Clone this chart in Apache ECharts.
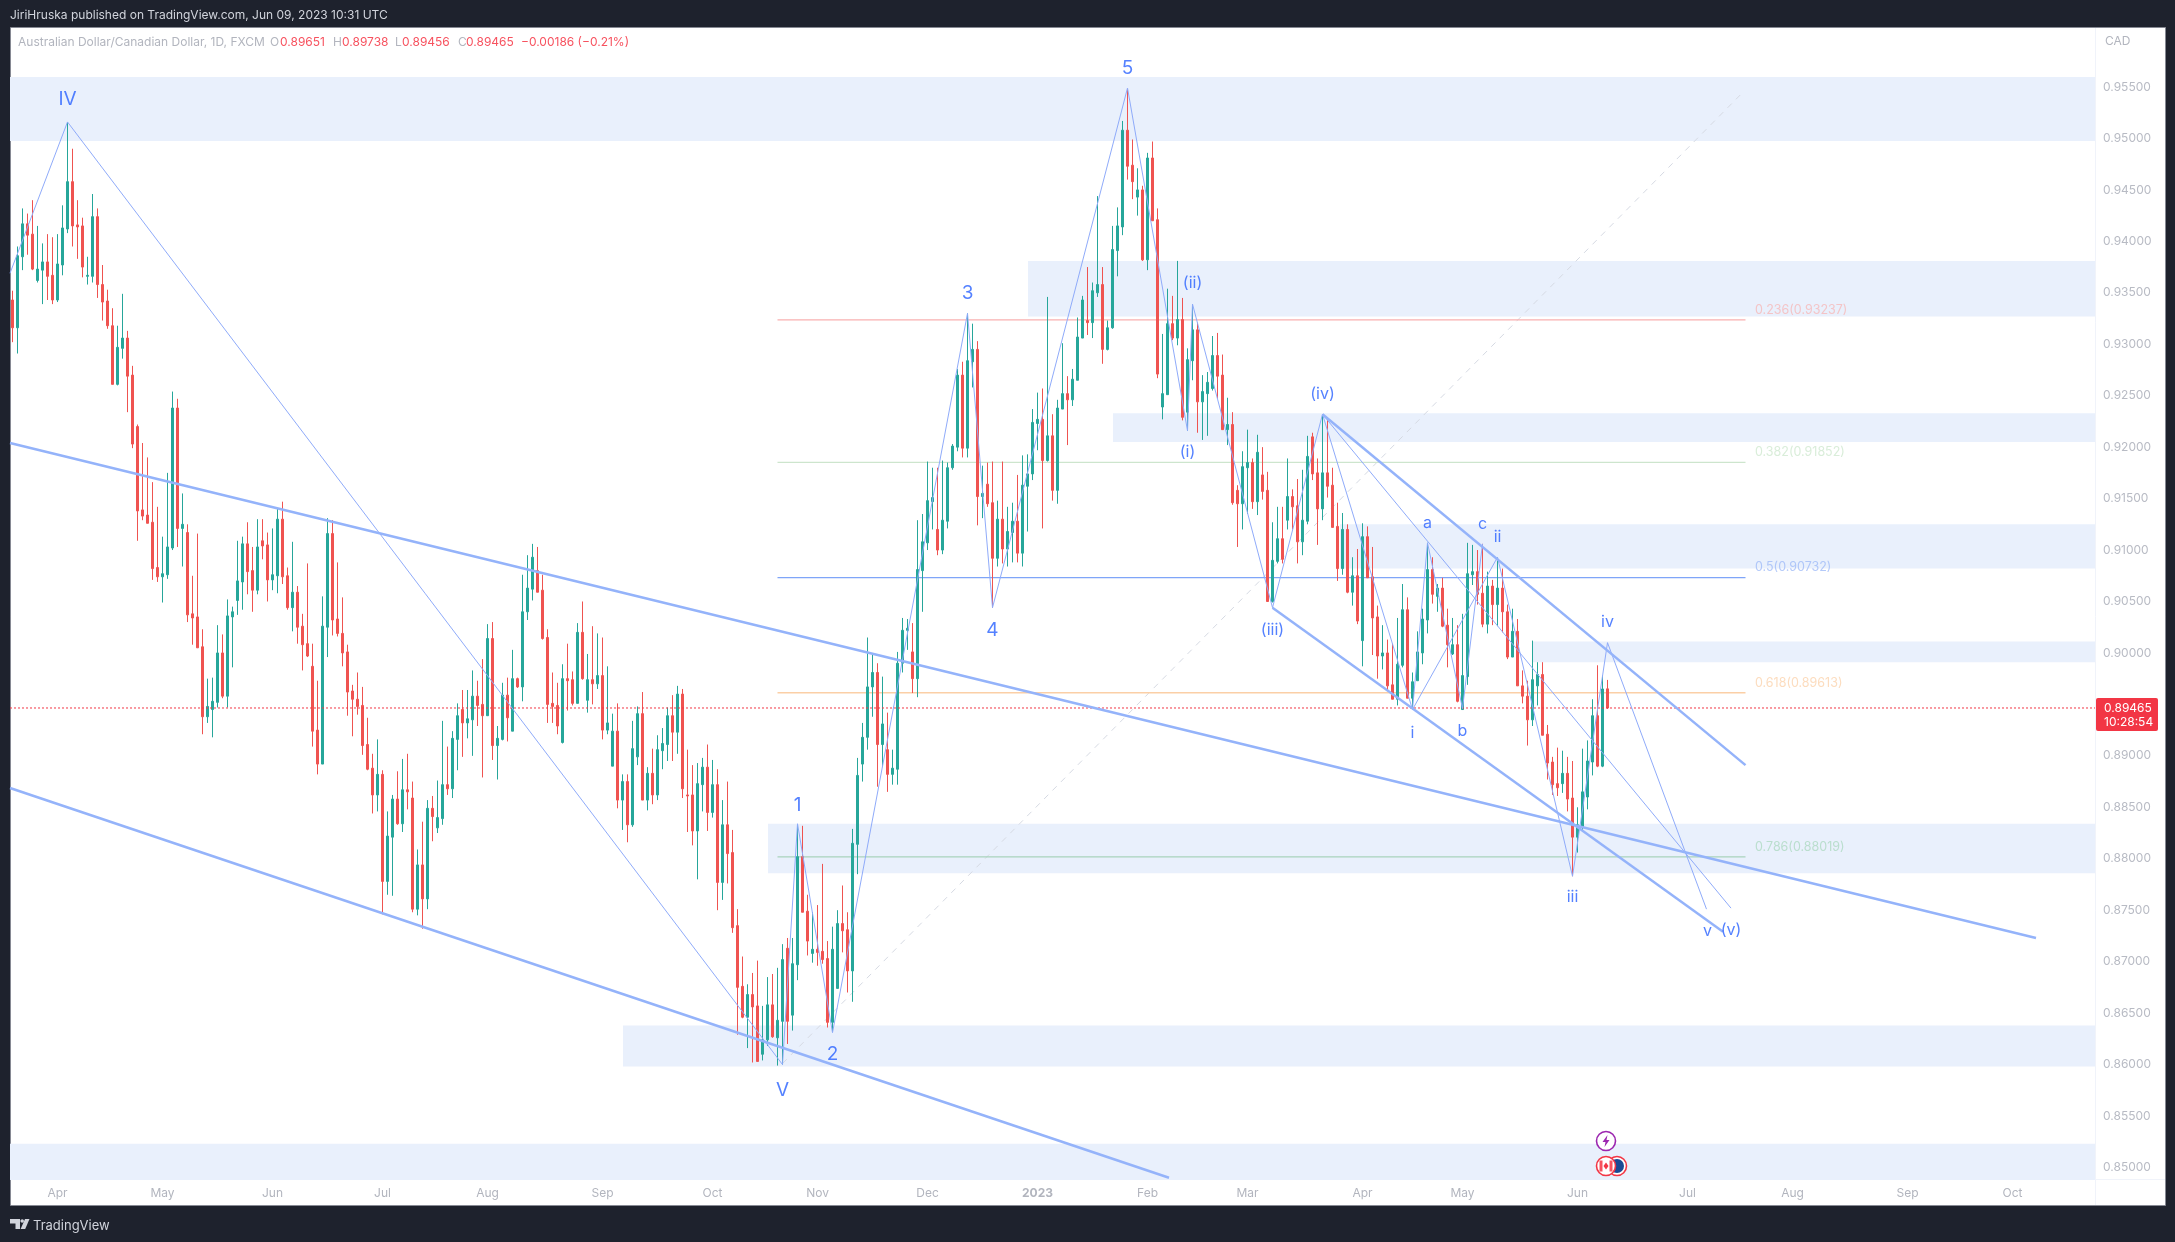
<!DOCTYPE html>
<html><head><meta charset="utf-8"><title>AUDCAD</title>
<style>html,body{margin:0;padding:0;background:#1e222d}#c{width:2175px;height:1242px}</style>
<script src="https://cdn.jsdelivr.net/npm/echarts@6/dist/echarts.min.js"></script>
</head><body><div id="c"></div><script>
const priceOpen=[
.9343,.9316,.9385,.9417,.9407,.9362,.9372,.9380,.9367,.9343,
.9377,.9412,.9458,.9416,.9415,.9366,.9366,.9424,.9358,.9342,
.9318,.9261,.9296,.9306,.9270,.9220,.9139,.9134,.9127,.9083,
.9074,.9076,.9102,.9238,.9121,.9117,.9038,.9035,.9006,.8938,
.8945,.8952,.9000,.8958,.9035,.9051,.9069,.9106,.9080,.9061,
.9109,.9105,.9071,.9075,.9130,.9075,.9044,.9059,.9026,.9009,
.8987,.8925,.8892,.9025,.9116,.9033,.9019,.9001,.8963,.8955,
.8949,.8911,.8888,.8862,.8882,.8778,.8821,.8858,.8834,.8867,
.8859,.8751,.8794,.8761,.8849,.8830,.8839,.8872,.8868,.8916,
.8945,.8932,.8935,.8958,.8950,.8939,.9014,.8910,.8916,.8959,
.8924,.8975,.8967,.9040,.9062,.9080,.9061,.9015,.8951,.8949,
.8913,.8975,.8974,.8951,.9020,.8954,.8974,.8970,.8978,.8925,
.8890,.8924,.8857,.8875,.8833,.8899,.8941,.8857,.8883,.8862,
.8905,.8911,.8939,.8923,.8960,.8862,.8862,.8827,.8872,.8889,
.8845,.8872,.8777,.8833,.8806,.8735,.8676,.8646,.8668,.8657,
.8610,.8624,.8658,.8626,.8642,.8713,.8648,.8697,.8802,.8749,
.8708,.8712,.8710,.8703,.8641,.8674,.8737,.8731,.8691,.8814,
.8892,.8918,.8967,.8981,.8911,.8906,.8882,.8887,.8990,.9022,
.9001,.8975,.9080,.9107,.9147,.9120,.9100,.9128,.9180,.9200,
.9270,.9199,.9283,.9295,.9152,.9164,.9146,.9092,.9130,.9101,
.9117,.9128,.9097,.9162,.9174,.9223,.9227,.9187,.9211,.9158,
.9237,.9252,.9246,.9265,.9306,.9323,.9321,.9350,.9358,.9295,
.9316,.9391,.9414,.9508,.9474,.9443,.9450,.9382,.9481,.9421,
.9239,.9251,.9320,.9306,.9324,.9234,.9284,.9314,.9244,.9252,
.9257,.9289,.9270,.9217,.9222,.9158,.9145,.9180,.9185,.9147,
.9173,.9158,.9050,.9089,.9111,.9129,.9152,.9143,.9108,.9128,
.9210,.9175,.9140,.9175,.9163,.9123,.9082,.9120,.9059,.9075,
.9012,.9113,.9074,.9035,.8997,.9000,.8969,.8955,.8988,.9042,
.8956,.8973,.9000,.9032,.9081,.9055,.9063,.9027,.8999,.9008,
.8945,.8977,.9076,.9079,.9058,.9028,.9065,.9047,.9063,.9040,
.8996,.9021,.8968,.8958,.8935,.8968,.8979,.8921,.8894,.8873,
.8873,.8883,.8859,.8821,.8831,.8860,.8894,.8939,.8890,.89651];
const priceHigh=[
.9352,.9395,.9432,.9427,.9440,.9415,.9398,.9407,.9404,.9407,
.9435,.9516,.9490,.9440,.9423,.9385,.9446,.9432,.9377,.9353,
.9335,.9318,.9349,.9313,.9279,.9222,.9204,.9190,.9166,.9142,
.9113,.9175,.9254,.9247,.9155,.9125,.9075,.9116,.9023,.8975,
.8976,.9027,.9018,.9052,.9045,.9109,.9113,.9127,.9103,.9130,
.9130,.9117,.9121,.9140,.9147,.9083,.9108,.9065,.9038,.9087,
.9009,.8973,.9055,.9131,.9129,.9088,.9054,.9008,.8969,.8981,
.8967,.8937,.8902,.8916,.8886,.8846,.8862,.8885,.8897,.8902,
.8875,.8809,.8836,.8857,.8861,.8876,.8934,.8909,.8924,.8951,
.8964,.8964,.8983,.8973,.8994,.9028,.9030,.8929,.8971,.8976,
.9003,.8976,.9076,.9095,.9106,.9103,.9076,.9023,.8981,.8971,
.8989,.9009,.8982,.9029,.9050,.8999,.9026,.9019,.9015,.8987,
.8941,.8951,.8882,.8882,.8934,.8948,.8962,.8889,.8907,.8920,
.8927,.8947,.8959,.8968,.8965,.8906,.8891,.8893,.8898,.8911,
.8896,.8887,.8857,.8875,.8828,.8751,.8705,.8678,.8689,.8701,
.8657,.8685,.8688,.8694,.8717,.8723,.8723,.8833,.8832,.8765,
.8748,.8755,.8795,.8720,.8734,.8750,.8774,.8748,.8829,.8898,
.8932,.9015,.8999,.8990,.8977,.8942,.8906,.9001,.9034,.9033,
.9029,.9129,.9135,.9186,.9180,.9180,.9187,.9185,.9203,.9276,
.9283,.9330,.9320,.9303,.9182,.9185,.9186,.9148,.9186,.9142,
.9146,.9173,.9192,.9193,.9237,.9253,.9257,.9346,.9232,.9246,
.9301,.9269,.9276,.9326,.9347,.9375,.9360,.9444,.9375,.9323,
.9415,.9433,.9517,.9548,.9499,.9471,.9454,.9486,.9497,.9432,
.9310,.9354,.9347,.9381,.9345,.9296,.9339,.9321,.9270,.9273,
.9308,.9311,.9290,.9248,.9234,.9163,.9196,.9217,.9189,.9212,
.9200,.9176,.9127,.9142,.9142,.9189,.9159,.9169,.9178,.9211,
.9214,.9189,.9232,.9229,.9180,.9146,.9136,.9125,.9093,.9101,
.9126,.9123,.9103,.9046,.9027,.9013,.9009,.9034,.9067,.9054,
.8981,.9021,.9043,.9107,.9093,.9067,.9073,.9043,.9034,.9027,
.9038,.9107,.9105,.9100,.9106,.9079,.9071,.9093,.9082,.9047,
.9043,.9033,.8983,.8973,.9012,.8991,.8991,.8930,.8899,.8908,
.8905,.8899,.8895,.8850,.8907,.8915,.8955,.8988,.8978,.89738];
const priceLow=[
.9302,.9291,.9372,.9387,.9372,.9360,.9339,.9343,.9339,.9341,
.9367,.9408,.9395,.9383,.9365,.9358,.9360,.9345,.9323,.9315,
.9261,.9260,.9286,.9234,.9199,.9109,.9129,.9126,.9071,.9069,
.9049,.9072,.9100,.9103,.9084,.9030,.9008,.9005,.8921,.8932,
.8918,.8947,.8956,.8947,.8986,.9037,.9042,.9057,.9040,.9057,
.9091,.9050,.9061,.9058,.9067,.9042,.9021,.9009,.8983,.8996,
.8909,.8882,.8892,.8996,.9017,.9016,.8987,.8939,.8919,.8940,
.8901,.8886,.8844,.8846,.8746,.8765,.8764,.8833,.8826,.8848,
.8748,.8745,.8732,.8751,.8817,.8825,.8833,.8862,.8859,.8886,
.8899,.8917,.8900,.8929,.8879,.8939,.8896,.8877,.8915,.8914,
.8924,.8966,.8953,.9032,.9051,.9059,.9013,.8932,.8932,.8921,
.8912,.8944,.8949,.8951,.8974,.8942,.8950,.8965,.8916,.8921,
.8890,.8849,.8828,.8816,.8831,.8891,.8857,.8847,.8853,.8857,
.8887,.8895,.8895,.8902,.8859,.8826,.8813,.8780,.8846,.8827,
.8840,.8750,.8760,.8776,.8728,.8629,.8645,.8616,.8602,.8603,
.8604,.8618,.8626,.8599,.8600,.8620,.8633,.8682,.8748,.8706,
.8699,.8696,.8698,.8636,.8632,.8674,.8709,.8670,.8661,.8785,
.8875,.8906,.8938,.8870,.8889,.8865,.8872,.8872,.8981,.9003,
.8961,.8957,.9040,.9100,.9120,.9095,.9096,.9121,.9178,.9196,
.9190,.9190,.9258,.9124,.9131,.9142,.9044,.9084,.9087,.9084,
.9088,.9088,.9084,.9118,.9168,.9197,.9121,.9186,.9148,.9145,
.9237,.9202,.9240,.9265,.9306,.9309,.9306,.9346,.9281,.9294,
.9315,.9366,.9406,.9460,.9441,.9425,.9381,.9372,.9420,.9267,
.9227,.9251,.9304,.9299,.9226,.9216,.9265,.9214,.9207,.9211,
.9255,.9247,.9217,.9202,.9144,.9103,.9120,.9135,.9140,.9134,
.9149,.9050,.9049,.9087,.9087,.9120,.9120,.9087,.9095,.9125,
.9168,.9105,.9129,.9151,.9122,.9070,.9076,.9058,.9046,.9028,
.8987,.9073,.8998,.8975,.8984,.8964,.8955,.8949,.8986,.8956,
.8945,.8973,.8989,.9019,.9048,.9040,.9025,.8986,.8998,.8952,
.8945,.8969,.9066,.9047,.9025,.9019,.9027,.9026,.9020,.8994,
.8996,.8968,.8951,.8910,.8929,.8949,.8920,.8877,.8862,.8861,
.8864,.8846,.8783,.8806,.8826,.8848,.8881,.8889,.8889,.89456];
const priceClose=[
.9316,.9386,.9417,.9406,.9373,.9373,.9380,.9366,.9343,.9378,
.9413,.9458,.9415,.9414,.9375,.9367,.9424,.9358,.9341,.9318,
.9261,.9297,.9306,.9269,.9203,.9138,.9133,.9126,.9082,.9074,
.9077,.9103,.9238,.9121,.9125,.9037,.9034,.9005,.8938,.8948,
.8953,.9000,.8958,.9036,.9040,.9070,.9106,.9079,.9061,.9103,
.9104,.9071,.9076,.9130,.9074,.9044,.9059,.9025,.9008,.8997,
.8924,.8892,.9026,.9116,.9032,.9019,.9000,.8962,.8955,.8948,
.8910,.8887,.8862,.8882,.8778,.8822,.8858,.8834,.8867,.8865,
.8751,.8794,.8761,.8849,.8841,.8840,.8872,.8868,.8917,.8939,
.8932,.8936,.8958,.8949,.8939,.9014,.8910,.8917,.8959,.8937,
.8975,.8967,.9040,.9063,.9093,.9059,.9014,.8950,.8948,.8929,
.8975,.8973,.8951,.9020,.8975,.8974,.8970,.8978,.8925,.8932,
.8924,.8857,.8875,.8833,.8907,.8941,.8857,.8883,.8862,.8906,
.8912,.8939,.8923,.8960,.8868,.8861,.8827,.8873,.8889,.8845,
.8872,.8777,.8833,.8805,.8733,.8675,.8646,.8668,.8656,.8603,
.8624,.8658,.8627,.8643,.8702,.8642,.8698,.8802,.8748,.8720,
.8712,.8709,.8702,.8641,.8712,.8737,.8730,.8691,.8815,.8881,
.8918,.8967,.8981,.8911,.8931,.8882,.8888,.8990,.9022,.9024,
.8975,.9081,.9108,.9148,.9151,.9100,.9129,.9180,.9201,.9270,
.9199,.9284,.9295,.9152,.9155,.9145,.9092,.9130,.9101,.9118,
.9128,.9097,.9163,.9174,.9224,.9227,.9187,.9211,.9158,.9238,
.9252,.9246,.9266,.9307,.9343,.9321,.9352,.9358,.9295,.9316,
.9392,.9415,.9508,.9473,.9458,.9450,.9382,.9481,.9420,.9271,
.9252,.9320,.9306,.9324,.9229,.9285,.9314,.9244,.9254,.9263,
.9289,.9269,.9217,.9222,.9146,.9145,.9181,.9185,.9147,.9195,
.9157,.9050,.9090,.9111,.9091,.9152,.9142,.9108,.9129,.9191,
.9174,.9140,.9175,.9162,.9122,.9082,.9120,.9059,.9075,.9031,
.9113,.9073,.9034,.8997,.9000,.8968,.8955,.8989,.9042,.8956,
.8972,.9001,.9033,.9081,.9057,.9063,.9026,.9008,.9008,.8953,
.8978,.9077,.9079,.9057,.9028,.9065,.9047,.9063,.9040,.8996,
.9021,.8968,.8958,.8935,.8974,.8979,.8920,.8893,.8872,.8869,
.8883,.8858,.8821,.8833,.8865,.8895,.8939,.8890,.8965,.89465];

const firstBarDate='2022-03-21', slotCount=417;
const tickDates=['2022-04-01','2022-05-02','2022-06-01','2022-07-01','2022-08-01','2022-09-01','2022-10-03','2022-11-01','2022-12-01','2023-01-02','2023-02-01','2023-03-01','2023-04-03','2023-05-01','2023-06-01','2023-07-03','2023-08-01','2023-09-01','2023-10-02'];
const tickNames=['Apr','May','Jun','Jul','Aug','Sep','Oct','Nov','Dec','2023','Feb','Mar','Apr','May','Jun','Jul','Aug','Sep','Oct'];
const priceTicks=[.85,.855,.86,.865,.87,.875,.88,.885,.89,.895,.9,.905,.91,.915,.92,.925,.93,.935,.94,.945,.95,.955];

// zones: [first bar, last bar, upper price, lower price]
const zones=[[-.5,416.5,.95597,.94975],[203.1,416.5,.9381,.9327],[220.1,416.5,.9233,.9205],[265.5,416.5,.9125,.9082],[303.9,416.5,.9011,.8991],[151.1,416.5,.8834,.8786],[122.1,416.5,.8638,.8598],[-.5,416.5,.8523,.8487]];
// Elliott wave paths: [bar, price]
const waveMain=[[-.5,.9369],[11,.9516],[154,.8600],[157,.8834],[164,.8631],[191,.9330],[196,.9044],[223,.9549],[235,.9216],[236,.9339],[252,.9044],[262,.9232],[280,.8945],[297,.9093],[312,.8783],[319,.9010],[338.8,.8751]];
const waveAbc=[[280,.8945],[283,.9107],[290,.8946],[294,.9106]];
const waveAlt=[[262,.9232],[343.7,.8752]];
const trendUpper=[[-.5,.9204],[404.7,.8723]];
const trendLower=[[-.5,.88687],[231.3,.8490]];
const channelUpper=[[262,.9232],[346.6,.8891]];
const channelLower=[[252,.9044],[342.1,.8729]];
const fibDiagonal=[[154,.8601],[345.7,.9543]];
const fibFrom=153, fibTo=346.6, fibLabelBar=348.5;
const fibRatios=['0.236','0.382','0.5','0.618','0.786'];
const fibPrices=[.93237,.91852,.90732,.89613,.88019];
const fibLineColors=['#f9b0b0','#cde5cd','#7fa5f8','#fbcfa6','#a9d3bd'];
const fibTextColors=['#f6b9b9','#d0e8d0','#a0bbf8','#fbd3ae','#aed9c2'];
const bigLabels=['IV','V','1','2','3','4','5'];
const bigLabelPos=[[11,.95383],[154,.8575],[157,.8852],[164,.8610],[191,.9350],[196,.9022],[223,.95684]];
const smallLabels=['(i)','(ii)','(iii)','(iv)','a','c','ii','i','b','iii','iv','v','(v)'];
const smallLabelPos=[[235,.9195],[236,.93595],[252,.9022],[262,.92516],[283,.9126],[294,.9125],[297,.91126],[280,.8922],[290,.8924],[312,.8763],[319,.9030],[339,.8730],[343.7,.8731]];
const lastPrice=.89465;

const FONT='Inter';
const categories=[];
(function(){let d=new Date(firstBarDate+'T00:00:00Z');while(categories.length<slotCount){const w=d.getUTCDay();if(w!==0&&w!==6)categories.push(d.toISOString().slice(0,10));d=new Date(d.getTime()+864e5);}})();
const candles=priceOpen.map((o,i)=>[o,priceClose[i],priceLow[i],priceHigh[i]]);
const tickMap={};tickDates.forEach((d,i)=>tickMap[d]=tickNames[i]);

function line(data,color,width,type,z){return{type:'line',xAxisIndex:1,yAxisIndex:0,data,showSymbol:false,silent:true,animation:false,z:z||5,lineStyle:{color,width,type:type||'solid'}};}
function labels(data,names,size){return{type:'scatter',xAxisIndex:1,yAxisIndex:0,data,symbolSize:1,silent:true,animation:false,z:6,itemStyle:{color:'transparent'},label:{show:true,position:'inside',align:'center',verticalAlign:'middle',fontFamily:FONT,fontSize:size,fontWeight:400,color:'#2962ff',formatter:p=>names[p.dataIndex]}};}

const series=[
 {type:'custom',xAxisIndex:1,yAxisIndex:0,data:zones,silent:true,animation:false,z:1,clip:true,encode:{x:[0,1],y:[2,3]},
  renderItem:(p,api)=>{const a=api.coord([api.value(0),api.value(2)]),b=api.coord([api.value(1),api.value(3)]);return{type:'rect',shape:{x:a[0],y:a[1],width:b[0]-a[0],height:b[1]-a[1]},style:{fill:'#e9f0fc'}};}},
 line(fibDiagonal,'#d6dae3',1,[6,6],2),
 {type:'candlestick',xAxisIndex:0,yAxisIndex:0,data:candles,barWidth:2.4,silent:true,animation:false,z:3,
  itemStyle:{color:'#26a69a',color0:'#ef5350',borderColor:'#26a69a',borderColor0:'#ef5350',borderWidth:1}},
 line([[-.5,lastPrice],[416.5,lastPrice]],'#f23645',1,[2,2],4)
];
fibPrices.forEach((p,i)=>{
 series.push(line([[fibFrom,p],[fibTo,p]],fibLineColors[i],1.3,'solid',2));
 series.push({type:'scatter',xAxisIndex:1,yAxisIndex:0,data:[[fibLabelBar,p]],symbolSize:1,silent:true,animation:false,z:6,itemStyle:{color:'transparent'},
  label:{show:true,position:'inside',align:'left',verticalAlign:'middle',offset:[0,-10],fontFamily:FONT,fontSize:12.5,color:fibTextColors[i],formatter:()=>fibRatios[i]+'('+p.toFixed(5)+')'}});
});
series.push(line(waveMain,'#8fabfa',1));
series.push(line(waveAbc,'#8fabfa',1));
series.push(line(waveAlt,'#8fabfa',1));
series.push(line(trendUpper,'#94b3fa',2.5));
series.push(line(trendLower,'#94b3fa',2.5));
series.push(line(channelUpper,'#94b3fa',2.5));
series.push(line(channelLower,'#94b3fa',2.5));
series.push(labels(bigLabelPos,bigLabels,19));
series.push(labels(smallLabelPos,smallLabels,16));

const gText=(x,y,text,fill,size)=>({type:'text',silent:true,x,y,z:20,style:{text,fill,font:(size||12)+'px '+FONT,textVerticalAlign:'middle'}});
const RED='#f7525f',GREY='#b2b5be';
const graphic=[
 {type:'rect',silent:true,z:-5,shape:{x:10.5,y:27.5,width:2155,height:1178},style:{fill:'#fff',stroke:'#868993',lineWidth:1}},
 {type:'line',silent:true,z:-4,shape:{x1:2095.5,y1:28,x2:2095.5,y2:1205},style:{stroke:'#f0f3fa',lineWidth:1}},
 {type:'line',silent:true,z:-4,shape:{x1:2096,y1:1179.5,x2:2165,y2:1179.5},style:{stroke:'#f0f3fa',lineWidth:1}},
 gText(10,15.5,'JiriHruska published on TradingView.com, Jun 09, 2023 10:31 UTC','#d1d4dc',12),
 gText(18,42.5,'Australian Dollar/Canadian Dollar, 1D, FXCM',GREY,12),
 gText(270,42.5,'O',GREY,12),gText(280,42.5,'0.89651',RED,12),
 gText(333,42.5,'H',GREY,12),gText(342,42.5,'0.89738',RED,12),
 gText(395,42.5,'L',GREY,12),gText(402,42.5,'0.89456',RED,12),
 gText(458,42.5,'C',GREY,12),gText(466,42.5,'0.89465',RED,12),
 gText(521,42.5,'\u22120.00186 (\u22120.21%)',RED,12),
 gText(2105,41,'CAD',GREY,12),
 {type:'rect',silent:true,z:20,shape:{x:2096,y:698,width:62,height:33,r:2},style:{fill:'#f23645'}},
 gText(2104,708,'0.89465','#fff',12),gText(2104,722,'10:28:54','#fff',12),
 gText(33,1226,'TradingView','#d1d4dc',13),
 {type:'polygon',silent:true,z:20,shape:{points:[[10,1219],[20,1219],[20,1229],[15.5,1229],[15.5,1223.5],[10,1223.5]]},style:{fill:'#d1d4dc'}},
 {type:'circle',silent:true,z:20,shape:{cx:22.2,cy:1221,r:1.8},style:{fill:'#d1d4dc'}},
 {type:'polygon',silent:true,z:20,shape:{points:[[25,1219],[29.5,1219],[25.2,1229],[20.6,1229]]},style:{fill:'#d1d4dc'}},
 {type:'circle',silent:true,z:20,shape:{cx:1606,cy:1141,r:9.5},style:{fill:'#fff',stroke:'#9c27b0',lineWidth:1.6}},
 {type:'polygon',silent:true,z:21,shape:{points:[[1607.5,1135],[1602.5,1142],[1605.5,1142],[1604.5,1147],[1609.5,1140],[1606.5,1140]]},style:{fill:'#9c27b0'}},
 {type:'circle',silent:true,z:20,shape:{cx:1617,cy:1166,r:9.5},style:{fill:'#fff',stroke:'#f23645',lineWidth:1.6}},
 {type:'circle',silent:true,z:20,shape:{cx:1617,cy:1166,r:7},style:{fill:'#1a4a94'}},
 {type:'circle',silent:true,z:21,shape:{cx:1606,cy:1166,r:9.5},style:{fill:'#fff',stroke:'#f23645',lineWidth:1.6}},
 {type:'rect',silent:true,z:21,shape:{x:1599.5,y:1160.5,width:3,height:11},style:{fill:'#f7525f'}},
 {type:'rect',silent:true,z:21,shape:{x:1609.5,y:1160.5,width:3,height:11},style:{fill:'#f7525f'}},
 {type:'polygon',silent:true,z:21,shape:{points:[[1606,1162.5],[1608.5,1166],[1606,1169.5],[1603.5,1166]]},style:{fill:'#f23645'}}
];

const chart=echarts.init(document.getElementById('c'),null,{renderer:'canvas',width:2175,height:1242});
chart.setOption({
 animation:false,backgroundColor:'#1e222d',
 grid:{left:10,right:80,top:27,bottom:62,containLabel:false},
 xAxis:[
  {type:'category',data:categories,boundaryGap:true,axisLine:{show:false},axisTick:{show:false},splitLine:{show:false},
   axisLabel:{show:true,margin:7,fontFamily:FONT,fontSize:12,color:GREY,hideOverlap:false,interval:(i,v)=>v in tickMap,
    formatter:v=>{const t=tickMap[v]||'';return t==='2023'?'{b|2023}':t;},rich:{b:{fontFamily:FONT,fontSize:12,fontWeight:700,color:GREY}}}},
  {type:'value',min:-.5,max:416.5,show:false,splitLine:{show:false}}
 ],
 yAxis:[{type:'value',position:'right',min:.84878,max:.96083,scale:true,axisLine:{show:false},axisTick:{show:false},splitLine:{show:false},
  axisLabel:{customValues:priceTicks,margin:8,fontFamily:FONT,fontSize:12,color:'#b8bbc4',formatter:v=>v.toFixed(5)}}],
 series,graphic:{elements:graphic}
});
</script></body></html>
